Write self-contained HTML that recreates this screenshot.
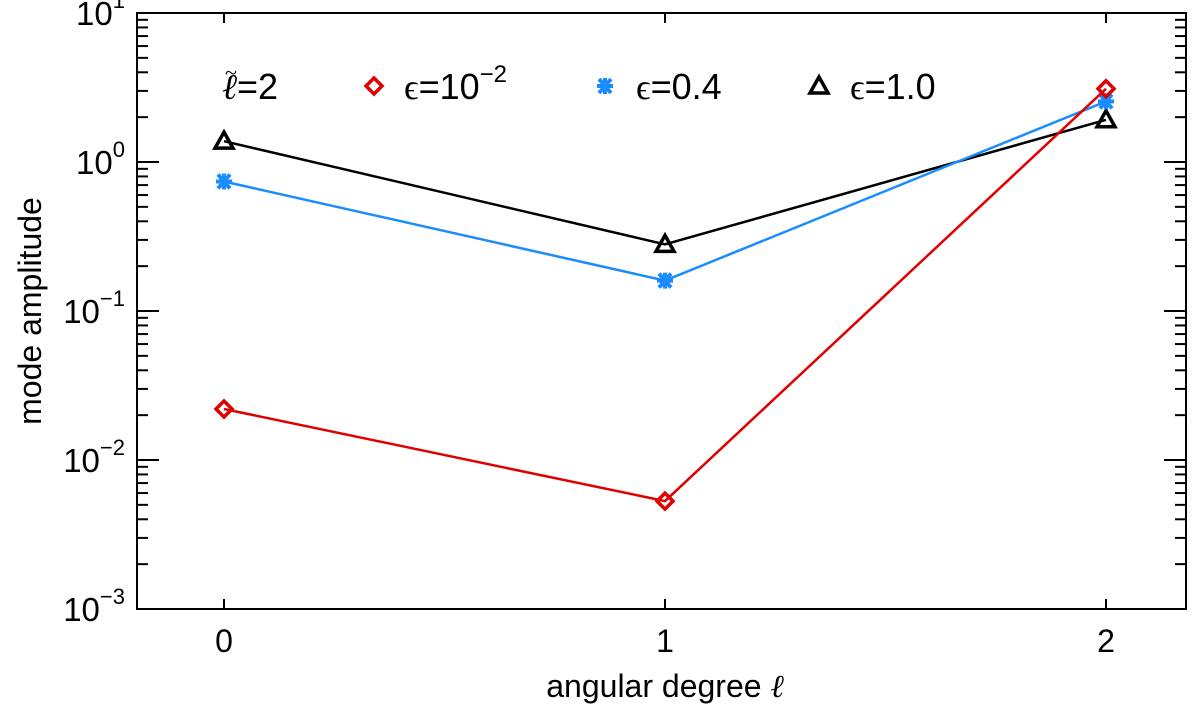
<!DOCTYPE html>
<html><head><meta charset="utf-8"><style>
body{margin:0;background:#fff}
svg{font-family:"Liberation Sans",sans-serif}
</style></head><body>
<svg id="c" width="1200" height="705" viewBox="0 0 1200 705" xmlns="http://www.w3.org/2000/svg"></svg>
<script>
const categories=[0,1,2];
const redVals=[0.022,0.0053,3.1];
const blueVals=[0.74,0.16,2.55];
const blackVals=[1.38,0.28,1.92];
const yTickExp=[-3,-2,-1,0,1];
const xTickLabels=["0","1","2"];
const L=137,R=1186,T=13,B=609;
const NS="http://www.w3.org/2000/svg";
const svg=document.getElementById('c');
function xs(v){return 224+v*441;}
function ys(v){return B-(Math.log10(v)+3)/4*(B-T);}
function mk(tag,attrs,parent){const e=document.createElementNS(NS,tag);for(const k in attrs)e.setAttribute(k,attrs[k]);(parent||svg).appendChild(e);return e;}
const frame=mk('rect',{x:L,y:T,width:R-L,height:B-T,fill:'none',stroke:'#000','stroke-width':2});


yTickExp.forEach(e=>{
  const y=ys(Math.pow(10,e));
  const t=mk('line',{x1:L,x2:L+22,y1:y,y2:y,stroke:'#000','stroke-width':2});
  
  
  const t2=mk('line',{x1:R,x2:R-22,y1:y,y2:y,stroke:'#000','stroke-width':2});
  
  
  const tx=mk('text',{x:L-12,y:y+12,'text-anchor':'end','font-size':33});
  tx.innerHTML='10<tspan dy="-17" font-size="22">'+(e<0?'\u2212'+(-e):e)+'</tspan>';
  
  
  if(e<1){for(let m=2;m<10;m++){const ym=ys(m*Math.pow(10,e));
    const a=mk('line',{x1:L,x2:L+11,y1:ym,y2:ym,stroke:'#000','stroke-width':2});
    
    
    const b=mk('line',{x1:R,x2:R-11,y1:ym,y2:ym,stroke:'#000','stroke-width':2});
    
    }}
});
categories.forEach((c,i)=>{
  const x=xs(c);
  const a=mk('line',{x1:x,x2:x,y1:B,y2:B-10,stroke:'#000','stroke-width':2});
  
  
  const b=mk('line',{x1:x,x2:x,y1:T,y2:T+10,stroke:'#000','stroke-width':2});
  
  
  const t=mk('text',{x:x,y:B+43,'text-anchor':'middle','font-size':32});
  t.textContent=xTickLabels[i];
  
  
});
const xt=mk('text',{x:665,y:697,'text-anchor':'middle','font-size':32});
xt.innerHTML='angular degree <tspan font-family="Liberation Serif" font-style="italic">ℓ</tspan>';


const yt=mk('text',{x:41,y:311,'text-anchor':'middle','font-size':32,transform:'rotate(-90 41 311)'});
yt.textContent='mode amplitude';


function marker(kind,x,y,col,g){
  let e;
  if(kind==='d')e=mk('polygon',{points:`${x},${y-8} ${x+8},${y} ${x},${y+8} ${x-8},${y}`,fill:'none',stroke:col,'stroke-width':3.5},g);
  else if(kind==='t')e=mk('polygon',{points:`${x},${y-9} ${x+9},${y+7} ${x-9},${y+7}`,fill:'none',stroke:col,'stroke-width':3.5},g);
  else{e=mk('path',{d:`M${x-8},${y}H${x+8}M${x-6},${y-7}L${x+6},${y+7}M${x+6},${y-7}L${x-6},${y+7}M${x},${y-8}V${y+8}`,stroke:col,'stroke-width':4},g);}
  
  
}
function series(vals,col,kind,name){
  const g=mk('g',{});
  
  
  const pts=vals.map((v,i)=>xs(categories[i])+','+ys(v)).join(' ');
  const pl=mk('polyline',{points:pts,fill:'none',stroke:col,'stroke-width':2.5},g);
  
  
  vals.forEach((v,i)=>marker(kind,xs(categories[i]),ys(v),col,g));
}
series(blackVals,'#000','t','series-eps-1');
series(blueVals,'#1a8cff','s','series-eps-0.4');
series(redVals,'#e00000','d','series-eps-0.01');
const lg=mk('g',{});


const l0=mk('text',{x:222,y:99,'font-size':36},lg);
l0.innerHTML='<tspan font-family="Liberation Serif" font-style="italic">ℓ</tspan>=2';


const tl=mk('text',{x:225,y:80,'font-size':22,'font-family':'Liberation Serif'},lg);
tl.textContent='~';


marker('d',374,86,'#e00000',lg);
const l1=mk('text',{x:404,y:99,'font-size':36},lg);
l1.innerHTML='<tspan font-family="Liberation Serif">ϵ</tspan>=10<tspan dy="-17" font-size="24">−2</tspan>';


marker('s',605,86,'#1a8cff',lg);
const l2=mk('text',{x:636,y:99,'font-size':36},lg);
l2.innerHTML='<tspan font-family="Liberation Serif">ϵ</tspan>=0.4';


marker('t',819,86,'#000',lg);
const l3=mk('text',{x:850,y:99,'font-size':36},lg);
l3.innerHTML='<tspan font-family="Liberation Serif">ϵ</tspan>=1.0';


</script>
</body></html>
